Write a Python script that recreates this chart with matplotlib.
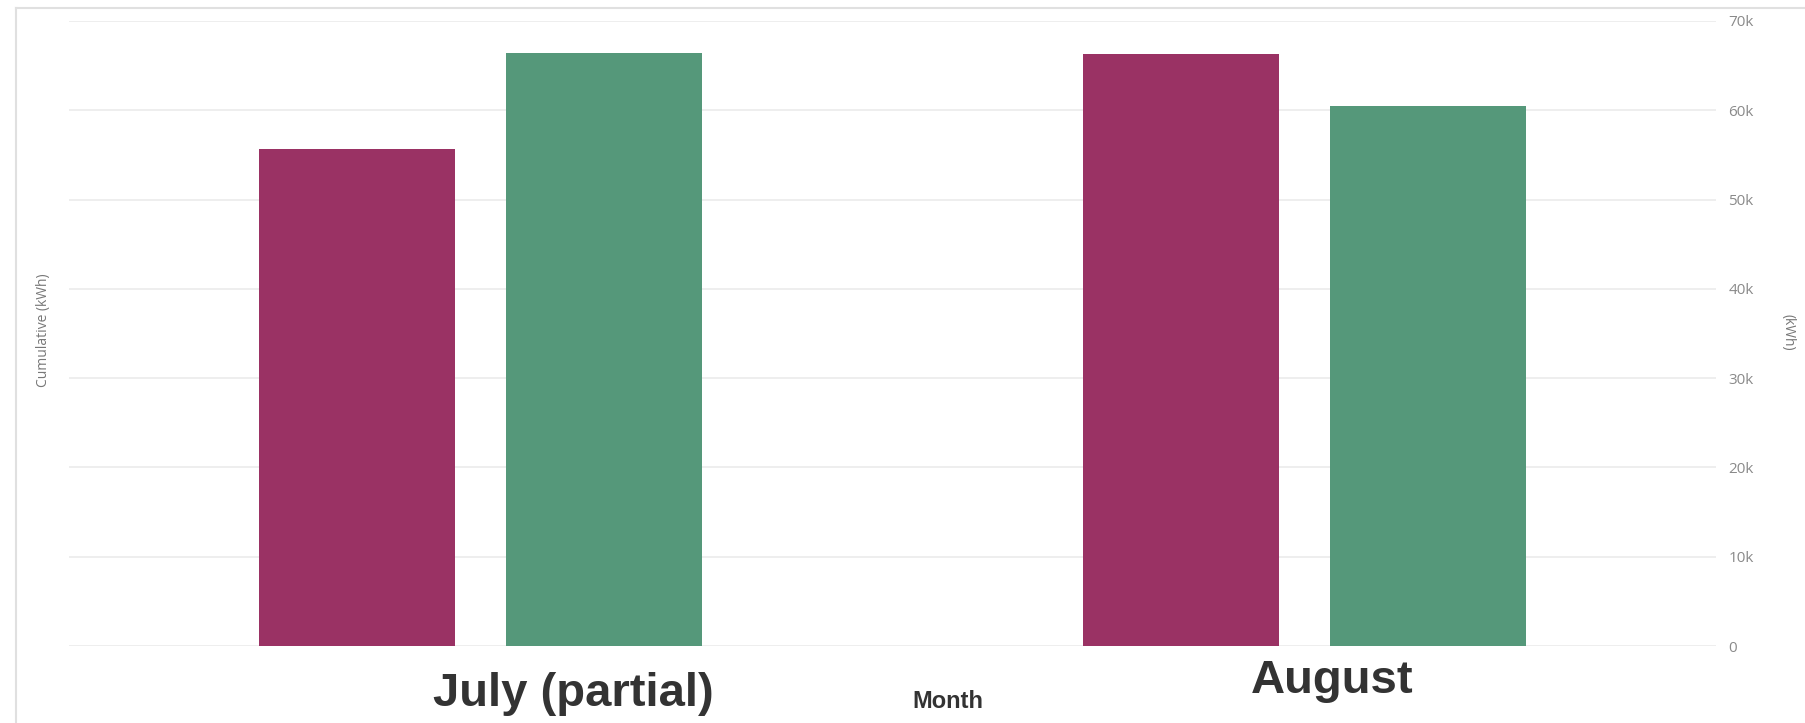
#!/usr/bin/env python3
import matplotlib
matplotlib.use("Agg")
import matplotlib.pyplot as plt
import numpy as np
from matplotlib.lines import Line2D
from matplotlib.ticker import FuncFormatter
from matplotlib.transforms import blended_transform_factory

# data
months = ["July (partial)", "August"]
series_a = [55700, 66300]   # magenta
series_b = [66400, 60500]   # green
y_ticks = [0, 10000, 20000, 30000, 40000, 50000, 60000, 70000]

COLORS = {
    "a": "#9a3264",
    "b": "#55987a",
    "grid": "#ebebeb",
    "tick": "#8a8a8a",
    "label": "#333333",
    "frame": "#e0e0e0",
}

fig = plt.figure(figsize=(18.06, 7.23), dpi=100)
ax = fig.add_axes([69 / 1806, 77 / 723, (1716 - 69) / 1806, (646 - 21) / 723])

x = np.arange(len(months))
width = 0.238
offset = 0.15
ax.bar(x - offset, series_a, width, color=COLORS["a"], zorder=3)
ax.bar(x + offset, series_b, width, color=COLORS["b"], zorder=3)

ax.set_xlim(-0.5, 1.5)
ax.set_ylim(0, 70000)
ax.set_yticks(y_ticks)
ax.yaxis.set_major_formatter(FuncFormatter(lambda v, _: "0" if v == 0 else f"{int(v / 1000)}k"))
ax.yaxis.tick_right()
ax.tick_params(axis="y", length=0, pad=9, labelsize=11, labelcolor=COLORS["tick"])
for lbl in ax.get_yticklabels():
    lbl.set_family("Open Sans")
ax.set_xticks([])
ax.grid(True, axis="y", color=COLORS["grid"], linewidth=1.2, zorder=0)
for spine in ax.spines.values():
    spine.set_visible(False)

# category labels (bold, pasted below the axis)
trans = blended_transform_factory(ax.transData, ax.transAxes)
ax.text(0.112, -0.077, months[0], transform=trans, ha="center", va="center",
        fontsize=34, fontweight="bold", family="Liberation Sans", color=COLORS["label"])
ax.text(1.034, -0.056, months[1], transform=trans, ha="center", va="center",
        fontsize=34, fontweight="bold", family="Liberation Sans", color=COLORS["label"])
fig.text(948 / 1806, 1 - 701 / 723, "Month", ha="center", va="center",
         fontsize=17, fontweight="bold", family="Liberation Sans", color=COLORS["label"])

fig.text(44 / 1806, 1 - 330 / 723, "Cumulative (kWh)", rotation=90, ha="center", va="center",
         fontsize=10, family="Open Sans", color="#777777")
fig.text(1788 / 1806, 1 - 332 / 723, "(kWh)", rotation=270, ha="center", va="center",
         fontsize=10, family="Open Sans", color="#777777")

# light frame at top and left
fig.add_artist(Line2D([16 / 1806, 16 / 1806], [0, 1 - 8 / 723], transform=fig.transFigure,
                      color=COLORS["frame"], linewidth=1.5))
fig.add_artist(Line2D([16 / 1806, 1], [1 - 8 / 723, 1 - 8 / 723], transform=fig.transFigure,
                      color=COLORS["frame"], linewidth=1.5))

fig.savefig("out.png", dpi=100, facecolor="white")
